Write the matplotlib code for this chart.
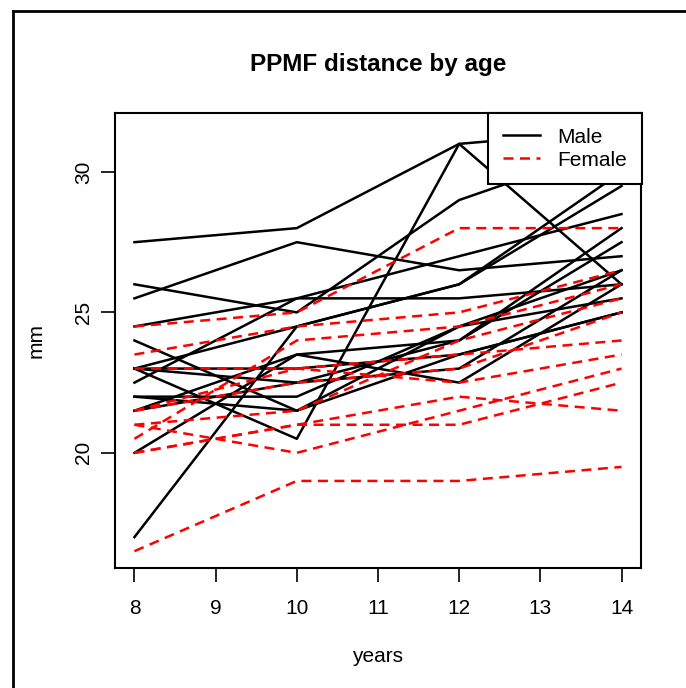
import numpy as np
import matplotlib
matplotlib.use("Agg")
import matplotlib.pyplot as plt
from matplotlib.lines import Line2D

plt.rcParams['font.family'] = ['Liberation Sans', 'DejaVu Sans']

# Orthodont data: distance (mm) at ages 8, 10, 12, 14
ages = [8, 10, 12, 14]

male = [
    [26, 25, 29, 31],
    [21.5, 22.5, 23, 26.5],
    [23, 22.5, 24, 27.5],
    [25.5, 27.5, 26.5, 27],
    [20, 23.5, 22.5, 26],
    [24.5, 25.5, 27, 28.5],
    [22, 22, 24.5, 26.5],
    [24, 21.5, 24.5, 25.5],
    [23, 20.5, 31, 26],
    [27.5, 28, 31, 31.5],
    [23, 23, 23.5, 25],
    [21.5, 23.5, 24, 28],
    [17, 24.5, 26, 29.5],
    [22.5, 25.5, 25.5, 26],
    [23, 24.5, 26, 30],
    [22, 21.5, 23.5, 25],
]

female = [
    [21, 20, 21.5, 23],
    [21, 21.5, 24, 25.5],
    [20.5, 24, 24.5, 26],
    [23.5, 24.5, 25, 26.5],
    [21.5, 23, 22.5, 23.5],
    [20, 21, 21, 22.5],
    [21.5, 22.5, 23, 25],
    [23, 23, 23.5, 24],
    [20, 21, 22, 21.5],
    [16.5, 19, 19, 19.5],
    [24.5, 25, 28, 28],
]

LW = 1.8
DASH = (0, (4, 2.6))

fig = plt.figure(figsize=(6.86, 6.88), dpi=100)
ax = fig.add_axes([0.1676, 0.1744, 0.7668, 0.6614])

for d in male:
    ax.plot(ages, d, color='black', lw=LW)
for d in female:
    ax.plot(ages, d, color='red', lw=LW, ls=DASH)

ax.set_xlim(7.76, 14.24)
ax.set_ylim(15.9, 32.1)
ax.set_xticks(range(8, 15))
ax.set_yticks([20, 25, 30])
ax.set_yticklabels(['20', '25', '30'], rotation=90, va='center')
ax.tick_params(labelsize=15, length=10, width=1.2)
ax.tick_params(axis='x', pad=12.5)
ax.tick_params(axis='y', pad=6)
for s in ax.spines.values():
    s.set_linewidth(1.5)

ax.set_title('PPMF distance by age', fontsize=17.5, fontweight='bold', pad=30)
ax.set_xlabel('years', fontsize=15, labelpad=21)
ax.set_ylabel('mm', fontsize=15, labelpad=20.5)

handles = [Line2D([], [], color='black', lw=LW),
           Line2D([], [], color='red', lw=LW, ls=DASH)]
leg = ax.legend(handles, ['Male', 'Female'], loc='upper right',
                bbox_to_anchor=(1.002, 1.0), fontsize=15, frameon=True,
                fancybox=False, framealpha=1, edgecolor='black',
                borderaxespad=0, handlelength=1.8, handletextpad=0.85,
                borderpad=0.7, labelspacing=0.2)
leg.get_frame().set_linewidth(1.5)

# outer frame lines (left and top)
fig.add_artist(Line2D([12.5 / 686, 12.5 / 686], [0, 1 - 11 / 688],
                      color='black', lw=2, transform=fig.transFigure))
fig.add_artist(Line2D([12.5 / 686, 1], [1 - 11 / 688, 1 - 11 / 688],
                      color='black', lw=2, transform=fig.transFigure))

fig.savefig('out.png', dpi=100)
